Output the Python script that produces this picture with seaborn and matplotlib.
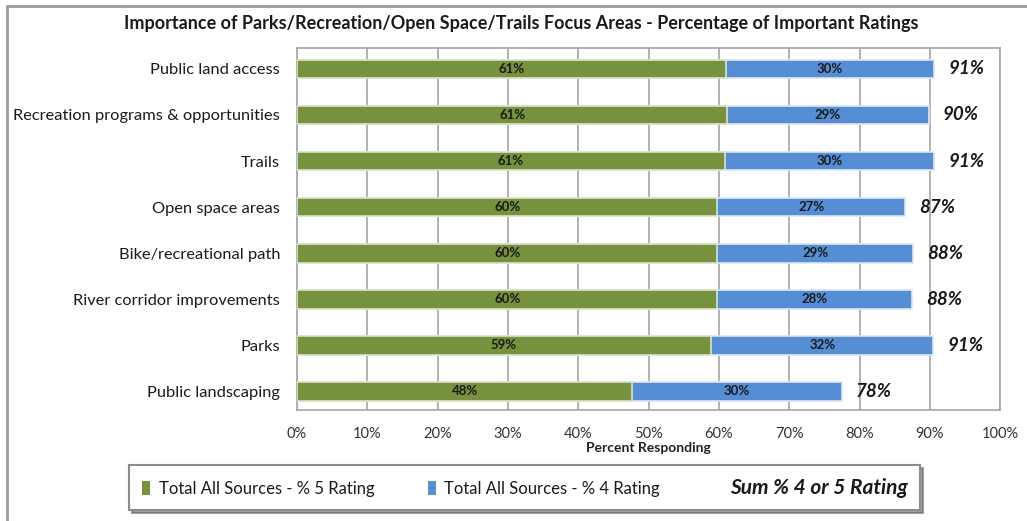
import matplotlib
matplotlib.use("Agg")
import matplotlib.pyplot as plt
from matplotlib.patches import Patch
from matplotlib.ticker import MultipleLocator, FixedLocator, PercentFormatter
import seaborn as sns
import pandas as pd

areas = ["Public land access", "Recreation programs & opportunities", "Trails",
         "Open space areas", "Bike/recreational path", "River corridor improvements",
         "Parks", "Public landscaping"]
rating5 = [61.0, 61.2, 60.8, 59.8, 59.8, 59.8, 58.9, 47.7]
rating4 = [29.6, 28.6, 29.8, 26.7, 27.8, 27.7, 31.6, 29.8]
rating5_labels = ["61%", "61%", "61%", "60%", "60%", "60%", "59%", "48%"]
rating4_labels = ["30%", "29%", "30%", "27%", "29%", "28%", "32%", "30%"]
sum_labels = ["91%", "90%", "91%", "87%", "88%", "88%", "91%", "78%"]

df = pd.DataFrame({"area": areas, "r5": rating5, "r4": rating4})
df["total"] = df["r5"] + df["r4"]

green = "#76923C"
blue = "#558ED5"
grid_c = "#A6A6A6"

sns.set_style("white")
plt.rcParams["font.family"] = ["Lato", "DejaVu Sans"]

fig = plt.figure(figsize=(10.27, 5.21), dpi=100)
ax = fig.add_axes([0.289, 0.213, 0.685, 0.695])

sns.barplot(data=df, y="area", x="total", color=blue, width=0.41, orient="h",
            saturation=1, edgecolor="#DDE6F2", linewidth=1.2, ax=ax, zorder=3)
sns.barplot(data=df, y="area", x="r5", color=green, width=0.41, orient="h",
            saturation=1, edgecolor="#DCE4CC", linewidth=1.2, ax=ax, zorder=4)

for i in range(len(areas)):
    ax.text(df["r5"][i] / 2, i, rating5_labels[i], ha="center", va="center",
            fontsize=9.5, fontweight="bold", color="#1a1a1a", zorder=5)
    ax.text(df["r5"][i] + df["r4"][i] / 2, i, rating4_labels[i], ha="center",
            va="center", fontsize=9.5, fontweight="bold", color="#1a1a1a", zorder=5)
    ax.text(df["total"][i] + 2, i, sum_labels[i], ha="left", va="center",
            fontsize=13.5, fontweight="bold", fontstyle="italic", color="#1a1a1a", zorder=5)

ax.set_xlim(0, 100)
ax.set_ylim(7.41, -0.457)
ax.xaxis.set_major_locator(MultipleLocator(10))
ax.xaxis.set_minor_locator(MultipleLocator(2))
ax.xaxis.set_major_formatter(PercentFormatter(decimals=0))
ax.yaxis.set_minor_locator(FixedLocator([i + 0.5 for i in range(-1, len(areas))]))
ax.grid(axis="x", which="major", color=grid_c, linewidth=1.2, zorder=0)
ax.set_axisbelow(True)
for s in ax.spines.values():
    s.set_color(grid_c)
    s.set_linewidth(1.2)
ax.tick_params(axis="x", which="major", length=6, direction="inout", color="#808080",
               labelsize=10.5, labelcolor="#333333", pad=9)
ax.tick_params(axis="x", which="minor", length=4, direction="inout", color="#808080")
ax.tick_params(axis="y", which="major", length=0, labelsize=11.8, labelcolor="#1a1a1a", pad=12)
ax.tick_params(axis="y", which="minor", length=5, direction="inout", color="#808080")
ax.set_ylabel("")
ax.set_xlabel("Percent Responding", fontsize=10, fontweight="bold", color="#222222", labelpad=1)

fig.text(0.508, 0.955, "Importance of Parks/Recreation/Open Space/Trails Focus Areas - Percentage of Important Ratings",
         ha="center", va="center", fontsize=13, fontweight="bold", color="#1a1a1a")

# outer frame of the picture
fig.add_artist(plt.Line2D([0.0065, 0.0065], [0, 0.988], transform=fig.transFigure,
                          color="#9A9A9A", linewidth=2))
fig.add_artist(plt.Line2D([0.0065, 1], [0.988, 0.988], transform=fig.transFigure,
                          color="#9A9A9A", linewidth=2))

handles = [Patch(facecolor=green, edgecolor="none"),
           Patch(facecolor=blue, edgecolor="none"),
           Patch(facecolor="none", edgecolor="none")]
labels = ["Total All Sources - % 5 Rating", "Total All Sources - % 4 Rating",
          "Sum % 4 or 5 Rating"]
leg = fig.legend(handles, labels, loc="center", bbox_to_anchor=(0.511, 0.064), ncol=3,
                 frameon=True, fancybox=False, shadow=True, edgecolor="#8C8C8C",
                 fontsize=12, handlelength=0.5, handleheight=0.9, handletextpad=0.5,
                 columnspacing=3.2, borderpad=0.75, borderaxespad=0)
leg.get_frame().set_linewidth(1.5)
for txt in leg.get_texts():
    txt.set_color("#1a1a1a")
t = leg.get_texts()[2]
t.set_fontstyle("italic")
t.set_fontweight("bold")
t.set_fontsize(15)

fig.savefig("out.png", dpi=100)
